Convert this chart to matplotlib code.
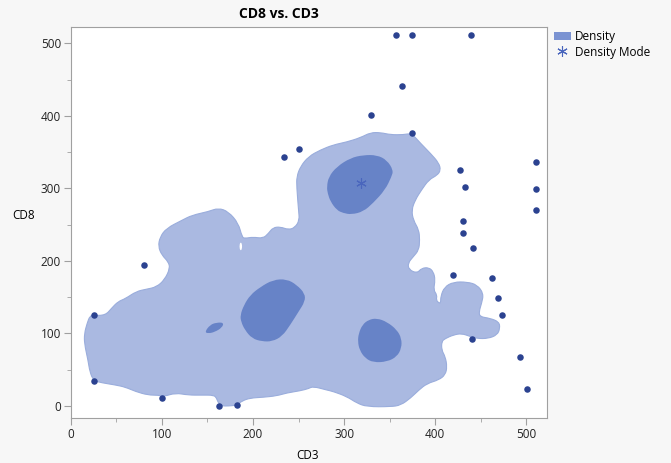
import numpy as np
import matplotlib.pyplot as plt
from matplotlib.path import Path
from matplotlib.patches import PathPatch, Patch
from matplotlib.lines import Line2D

plt.rcParams['font.family'] = ['Open Sans', 'DejaVu Sans']

# points outside the outer density contour
cd3_pts = [25, 25, 80, 100, 163, 182, 234, 251, 357, 374, 439, 363, 329, 374,
           427, 433, 511, 511, 511, 431, 431, 441, 420, 462, 469, 473, 440, 493, 501]
cd8_pts = [125, 35, 194, 11, 0, 2, 343, 355, 511, 511, 511, 441, 401, 376,
           326, 302, 336, 299, 270, 255, 238, 218, 181, 176, 149, 126, 93, 68, 24]

mode_cd3 = 318
mode_cd8 = 307

# outer contour outline (CD3, CD8)
outer_cd3 = [25, 21, 19, 15, 15, 18, 21, 25, 38, 45, 52, 60, 72, 83, 94, 103, 109, 107,
             100, 96, 98, 105, 122, 133, 151, 162, 173, 184, 188, 191, 200, 211, 217, 222,
             230, 239, 246, 251, 250, 248, 248, 252, 261, 274, 288, 303, 318, 329, 340, 351,
             365, 374, 384, 395, 404, 406, 402, 393, 385, 378, 374, 376, 382, 383, 382, 376,
             370, 371, 380, 385, 393, 398, 400, 398, 402, 401, 404, 406, 406, 410, 420, 435,
             446, 453, 451, 448, 449, 460, 470, 471, 468, 458, 446, 438, 429, 420, 411, 407,
             407, 411, 413, 411, 404, 391, 382, 373, 362, 351, 325, 314, 303, 288, 281, 266,
             261, 252, 237, 226, 211, 197, 188, 182, 173, 166, 162, 160, 157, 144, 129, 115,
             102, 96, 85, 71, 60, 49, 34]
outer_cd8 = [35, 47, 63, 86, 100, 114, 124, 125, 125, 135, 144, 148, 158, 161, 164, 174, 190, 199,
             208, 220, 233, 245, 256, 263, 268, 273, 268, 252, 233, 231, 233, 231, 238, 246,
             247, 243, 246, 256, 270, 302, 316, 330, 344, 353, 360, 364, 370, 377, 377, 374,
             374, 376, 362, 348, 335, 325, 318, 312, 298, 284, 270, 256, 243, 229, 215, 206,
             197, 188, 183, 190, 191, 185, 174, 160, 153, 146, 142, 142, 151, 164, 171, 171,
             167, 155, 142, 130, 123, 121, 116, 107, 98, 93, 93, 96, 100, 98, 93, 89,
             77, 68, 54, 43, 36, 31, 22, 11, 1, -1, -1, 4, 13, 20, 22, 27,
             24, 21, 18, 14, 12, 11, 7, 1, 0, 0, 4, 11, 15, 15, 15, 18,
             13, 15, 15, 20, 26, 29, 32]

# inner (higher density) contours
top_cd3 = [281, 283, 292, 307, 321, 336, 347, 354, 352, 345, 332, 321, 308, 299, 292, 285, 282]
top_cd8 = [302, 316, 330, 342, 346, 346, 339, 325, 316, 298, 280, 268, 264, 266, 270, 282, 293]

mid_cd3 = [186, 190, 197, 208, 222, 237, 248, 257, 257, 250, 241, 232, 221, 210, 199, 191, 187]
mid_cd8 = [125, 139, 153, 164, 174, 175, 167, 155, 144, 130, 112, 96, 89, 89, 93, 105, 116]

small_cd3 = [147, 153, 160, 168, 166, 158, 151]
small_cd8 = [102, 112, 115, 115, 108, 102, 100]

low_cd3 = [316, 320, 327, 336, 347, 358, 363, 363, 358, 347, 332, 323, 317, 315]
low_cd8 = [100, 112, 119, 121, 116, 105, 93, 80, 68, 61, 60, 66, 77, 89]

notch_cd3 = [186, 188, 188, 186, 185]
notch_cd8 = [226, 224, 216, 214, 220]

LIGHT = '#aab9e1'
DARK = '#6783c7'
DOT = '#2b4290'


def smooth_patch(xs, ys, **kw):
    # closed quadratic bezier through the midpoints of the traced outline
    v = np.column_stack([xs, ys]).astype(float)
    mids = (v + np.roll(v, -1, axis=0)) / 2
    verts = [mids[-1]]
    codes = [Path.MOVETO]
    for i in range(len(v)):
        verts += [v[i], mids[i]]
        codes += [Path.CURVE3, Path.CURVE3]
    return PathPatch(Path(verts, codes), **kw)


fig = plt.figure(figsize=(6.71, 4.63), dpi=100)
fig.patch.set_facecolor('#f7f7f7')
ax = fig.add_axes([0.1054, 0.0965, 0.7103, 0.8459])

ax.add_patch(smooth_patch(outer_cd3, outer_cd8, facecolor=LIGHT, edgecolor='#9aaddc', lw=0.8))
ax.add_patch(smooth_patch(notch_cd3, notch_cd8, facecolor='white', edgecolor='none'))
for xs, ys in [(top_cd3, top_cd8), (mid_cd3, mid_cd8), (small_cd3, small_cd8), (low_cd3, low_cd8)]:
    ax.add_patch(smooth_patch(xs, ys, facecolor=DARK, edgecolor='none'))

ax.scatter(cd3_pts, cd8_pts, s=22, color=DOT, zorder=3, linewidths=0)
ax.plot([mode_cd3], [mode_cd8], marker=(6, 2, 0), ms=7.5, color='#4a66bd', mew=0.8, ls='none', zorder=4)

ax.set_xlim(0, 523)
ax.set_ylim(-17, 523)
ax.set_xticks([0, 100, 200, 300, 400, 500])
ax.set_xticks([50, 150, 250, 350, 450], minor=True)
ax.set_yticks([0, 100, 200, 300, 400, 500])
ax.set_yticks([50, 150, 250, 350, 450], minor=True)
ax.tick_params(which='major', length=5, color='#a0a0a0', labelsize=8.5, labelcolor='#222222', pad=2)
ax.tick_params(which='minor', length=3, color='#a0a0a0')
for s in ax.spines.values():
    s.set_color('#a0a0a0')

fig.text(0.416, 0.985, 'CD8 vs. CD3', fontsize=10, fontweight='bold', ha='center', va='top')
ax.set_xlabel('CD3', fontsize=8.5, labelpad=4)
ax.set_ylabel('CD8', fontsize=8.5, rotation=0, labelpad=0)
ax.yaxis.set_label_coords(-0.098, 0.50)
ax.xaxis.set_label_coords(0.497, -0.078)

handles = [Patch(facecolor='#7b93d2', edgecolor='none'),
           Line2D([], [], marker=(6, 2, 0), ms=7.5, color='#4a66bd', mew=0.8, ls='none')]
fig.legend(handles, ['Density', 'Density Mode'], loc='upper left', bbox_to_anchor=(0.818, 0.945),
           frameon=False, fontsize=8.5, handlelength=1.5, handletextpad=0.3,
           labelspacing=0.2, borderaxespad=0)

fig.savefig('out.png', dpi=100, facecolor=fig.get_facecolor())
